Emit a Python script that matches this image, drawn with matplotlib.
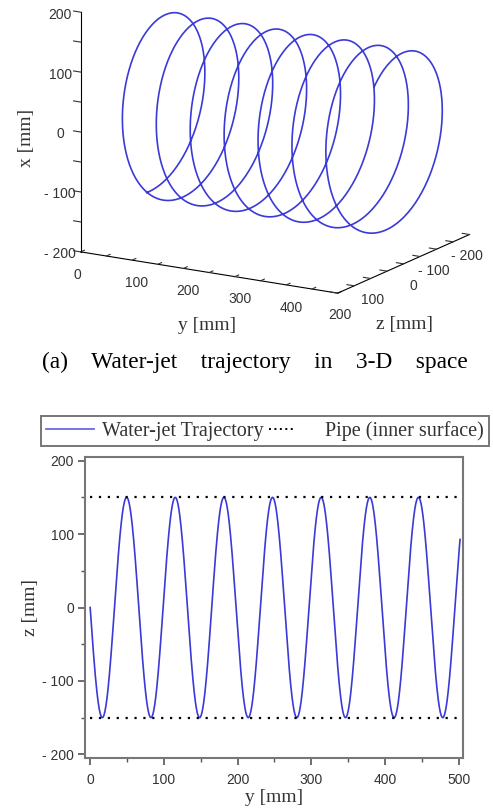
import numpy as np
import matplotlib
matplotlib.use('Agg')
import matplotlib.pyplot as plt
from matplotlib.ticker import FuncFormatter, MultipleLocator
from matplotlib.lines import Line2D

# values
pipe_radius = 150.0      # mm, inner surface of the pipe
pitch = 66.0             # mm travelled along y per turn of the jet
y_start, y_end = 0.0, 502.0

tick_major = [-200, -100, 0, 100, 200]
y_ticks_2d = [0, 100, 200, 300, 400, 500]
y_ticks_3d = [0, 100, 200, 300, 400]

jet_color = '#3a3ad8'
axis_color = '#555555'
text_color = '#333333'
serif = 'Liberation Serif'
sans = 'Liberation Sans'

# helix traced by the water jet
y = np.linspace(y_start, y_end, 2000)
theta = 2 * np.pi * y / pitch
x = -pipe_radius * np.cos(theta)
z = -pipe_radius * np.sin(theta)


def lab(v):
    v = int(round(v))
    return f'- {abs(v)}' if v < 0 else f'{v}'


class DotHandler:
    # dotted sample drawn only on the left part of the handle box
    def legend_artist(self, legend, orig_handle, fontsize, handlebox):
        x0, y0 = handlebox.xdescent, handlebox.ydescent
        w, h = handlebox.width, handlebox.height
        ln = Line2D([x0, x0 + 0.52 * w], [y0 + h / 2] * 2, color='black',
                    lw=1.4, ls=(0, (1, 1.8)))
        handlebox.add_artist(ln)
        return ln


fig = plt.figure(figsize=(4.93, 8.08), dpi=100)

# ---------- (a) 3-D view ----------
cx, cy = 0.547, 0.8406
ax3 = fig.add_axes([cx - 0.5, cy - 0.25, 1.0, 0.5], projection='3d', proj_type='ortho')
ax3.plot(y, z, x, color=jet_color, lw=1.2)
ax3.set_xlim(0, 500)
ax3.set_ylim(200, -200)
ax3.set_zlim(-200, 200)
ax3.set_box_aspect((500, 427, 415), zoom=1.12)
ax3.view_init(elev=15.5, azim=-59)
ax3.set_facecolor('none')
for axis in (ax3.xaxis, ax3.yaxis, ax3.zaxis):
    axis.set_pane_color((1, 1, 1, 0))
    axis.pane.set_edgecolor('none')
    axis._axinfo['grid']['linewidth'] = 0
    axis._axinfo['axisline']['color'] = axis_color
    axis._axinfo['tick']['color'] = axis_color
    axis._axinfo['tick']['inward_factor'] = 0.0
    axis._axinfo['tick']['outward_factor'] = 0.35
ax3.grid(False)
ax3.zaxis.set_ticks_position('upper')
ax3.zaxis.set_label_position('upper')

ax3.set_xticks(np.arange(0, 501, 50))
ax3.set_xticklabels([lab(t) if t in y_ticks_3d else '' for t in np.arange(0, 501, 50)])
ax3.set_yticks(np.arange(-200, 201, 50))
ax3.set_yticklabels([lab(t) if t in tick_major else '' for t in np.arange(-200, 201, 50)])
ax3.set_zticks(np.arange(-200, 201, 50))
ax3.set_zticklabels([lab(t) if t in tick_major else '' for t in np.arange(-200, 201, 50)])
ax3.tick_params(labelsize=10, colors=text_color, pad=0)

# alignments that put the tick labels under / beside their ticks as in the reference
align = {ax3.xaxis: ('left', 'top'), ax3.yaxis: ('right', 'top'),
         ax3.zaxis: ('center', 'center_baseline')}
for axis, (ha, va) in align.items():
    for t in axis.get_majorticklabels():
        t.set_family(sans)
        t.set_ha(ha)
        t.set_va(va)

# axis titles of the 3-D view placed where the reference has them
fig.text(207 / 493, 1 - 325 / 808, 'y [mm]', family=serif, fontsize=14, color=text_color,
         ha='center', va='center')
fig.text(405 / 493, 1 - 325 / 808, 'z [mm]', family=serif, fontsize=14, color=text_color,
         ha='center', va='center')
fig.text(27 / 493, 1 - 138 / 808, 'x [mm]', family=serif, fontsize=14, color=text_color,
         ha='center', va='center', rotation=90)

fig.text(0.518, 1 - 362 / 808, '(a)    Water-jet    trajectory    in    3-D    space',
         family=serif, fontsize=16.8, ha='center', va='center', color='black')

# ---------- (b) z vs y ----------
ax = fig.add_axes([85 / 493, 1 - 758 / 808, 378 / 493, 301 / 808])
jet, = ax.plot(y, z, color=jet_color, lw=1.2, label='Water-jet Trajectory')
pipe_y = [y_start, 506]
for r in (pipe_radius, -pipe_radius):
    pipe, = ax.plot(pipe_y, [r, r], color='black', lw=1.6, ls=(0, (1, 3)),
                    label='Pipe (inner surface)')
ax.set_xlim(-7, 506)
ax.set_ylim(-205, 205)
ax.set_xticks(y_ticks_2d)
ax.set_yticks(tick_major)
ax.xaxis.set_minor_locator(MultipleLocator(50))
ax.yaxis.set_minor_locator(MultipleLocator(50))
ax.xaxis.set_major_formatter(FuncFormatter(lambda v, p: lab(v)))
ax.yaxis.set_major_formatter(FuncFormatter(lambda v, p: lab(v)))
ax.tick_params(which='major', direction='out', length=5, width=1.2, color=axis_color,
               labelsize=10, labelcolor=text_color, pad=3)
ax.tick_params(axis='x', which='major', pad=6)
ax.tick_params(which='minor', direction='out', length=3, width=1.0, color=axis_color)
for t in ax.get_xticklabels() + ax.get_yticklabels():
    t.set_family(sans)
for s in ax.spines.values():
    s.set_color('#777777')
    s.set_linewidth(1.5)
ax.set_xlabel('y [mm]', family=serif, fontsize=14, color=text_color, labelpad=1)
ax.set_ylabel('z [mm]', family=serif, fontsize=14, color=text_color, labelpad=2)

handles = [Line2D([], [], color='#6a6ae0', lw=1.3),
           Line2D([], [], color='black', lw=1.4, ls=(0, (1, 1.8)))]
leg = fig.legend(handles, ['Water-jet Trajectory', 'Pipe (inner surface)'],
                 handler_map={handles[1]: DotHandler()},
                 loc='upper left', bbox_to_anchor=(41 / 493, 1 - 416 / 808),
                 ncol=2, frameon=True, fancybox=False, borderaxespad=0,
                 handlelength=2.4, handletextpad=0.4, columnspacing=0.25, borderpad=0.25,
                 prop={'family': serif, 'size': 14.5})
leg.get_frame().set_edgecolor('#555555')
leg.get_frame().set_linewidth(1.4)
for t in leg.get_texts():
    t.set_color(text_color)

fig.savefig('out.png', dpi=100)
